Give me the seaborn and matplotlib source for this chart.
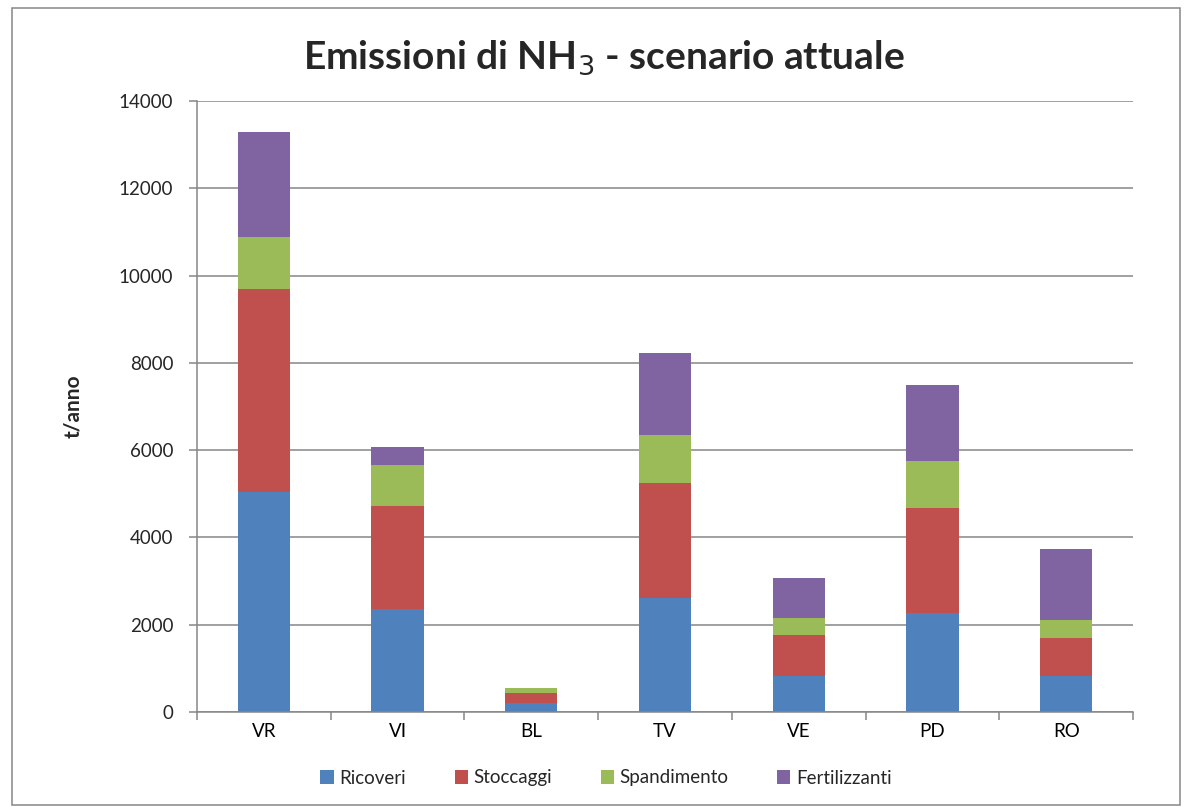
import matplotlib
matplotlib.use("Agg")
import matplotlib.pyplot as plt
import seaborn as sns
import numpy as np
import pandas as pd
from matplotlib.patches import Patch, Rectangle
from matplotlib.ticker import FixedLocator

categories = ["VR", "VI", "BL", "TV", "VE", "PD", "RO"]
ricoveri = [5050, 2350, 210, 2620, 830, 2270, 830]
stoccaggi = [4650, 2380, 230, 2630, 940, 2400, 870]
spandimento = [1190, 940, 120, 1100, 390, 1080, 410]
fertilizzanti = [2400, 410, 0, 1870, 910, 1750, 1620]

series_names = ["Ricoveri", "Stoccaggi", "Spandimento", "Fertilizzanti"]
series_colors = ["#4F81BD", "#C0504D", "#9BBB59", "#8064A2"]
yticks = [0, 2000, 4000, 6000, 8000, 10000, 12000, 14000]

sns.set_theme(style="white")
plt.rcParams["font.family"] = ["Lato", "DejaVu Sans"]

fig = plt.figure(figsize=(11.85, 8.09), dpi=100)
ax = fig.add_axes([197/1185, 1-712/809, (1133-197)/1185, (712-101)/809])

series = [ricoveri, stoccaggi, spandimento, fertilizzanti]
cum = np.cumsum(np.array(series), axis=0)
# draw from top (total) to bottom so that stacked appearance results
for i in range(len(series) - 1, -1, -1):
    df = pd.DataFrame({"cat": categories, "val": cum[i]})
    sns.barplot(data=df, x="cat", y="val", color=series_colors[i], saturation=1,
                width=0.39, linewidth=0, ax=ax, order=categories, errorbar=None)

ax.set_xlim(-0.5, len(categories) - 0.5)
ax.set_ylim(0, 14000)
ax.set_yticks(yticks)
ax.set_yticklabels([str(v) for v in yticks], fontsize=13.5)
ax.set_xticks(range(len(categories)))
ax.set_xticklabels(categories, fontsize=13.5)
ax.xaxis.set_minor_locator(FixedLocator(np.arange(-0.5, len(categories), 1.0)))
ax.tick_params(axis="x", which="major", length=0, pad=8, colors="black")
ax.tick_params(axis="x", which="minor", length=6, width=1.1, color="#868686", bottom=True)
ax.tick_params(axis="y", which="major", length=6, width=1.1, color="#868686", pad=11, left=True)
ax.set_xlabel("")
ax.set_ylabel("t/anno", fontsize=15, fontweight="bold", labelpad=26)

ax.yaxis.grid(True, color="#868686", linewidth=1.1)
ax.set_axisbelow(True)
for s in ["top", "right"]:
    ax.spines[s].set_visible(False)
for s in ["left", "bottom"]:
    ax.spines[s].set_color("#868686")
    ax.spines[s].set_linewidth(1.1)

fig.suptitle("Emissioni di NH$_3$ - scenario attuale", fontsize=28, fontweight="bold",
             x=604/1185, y=1-58/809, va="center")

handles = [Patch(facecolor=c, edgecolor="none", label=n) for n, c in zip(series_names, series_colors)]
fig.legend(handles=handles, loc="center", bbox_to_anchor=(606/1185, 1-778/809), ncol=4,
           frameon=False, fontsize=13.5, handlelength=0.7, handleheight=0.7,
           handletextpad=0.3, columnspacing=2.6)

fig.patches.append(Rectangle((12/1185, 1-805/809), (1180-12)/1185, (805-8)/809,
                             transform=fig.transFigure, fill=False,
                             edgecolor="#868686", linewidth=1.1))

fig.savefig("out.png", dpi=100, facecolor="white")
